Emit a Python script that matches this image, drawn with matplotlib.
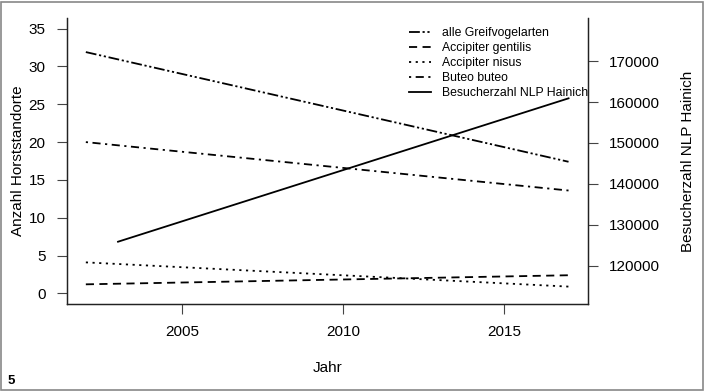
import matplotlib
matplotlib.use("Agg")
import matplotlib.pyplot as plt
from matplotlib.patches import Rectangle

plt.rcParams['font.family'] = ['Liberation Sans', 'DejaVu Sans']

# Data (trend lines)
years_birds = [2002, 2017]
alle = [31.9, 17.4]
gentilis = [1.2, 2.4]
nisus = [4.1, 0.9]
buteo = [20.0, 13.6]
years_visitors = [2003, 2017]
besucher = [125900, 160900]

labels = ["alle Greifvogelarten", "Accipiter gentilis", "Accipiter nisus",
          "Buteo buteo", "Besucherzahl NLP Hainich"]
xticks = [2005, 2010, 2015]
yticks_left = [0, 5, 10, 15, 20, 25, 30, 35]
yticks_right = [120000, 130000, 140000, 150000, 160000, 170000]

fig = plt.figure(figsize=(7.04, 3.92), dpi=100)
ax = fig.add_axes([0.0945, 0.2245, 0.7405, 0.7295])
ax2 = ax.twinx()

lw = 1.3
h1, = ax.plot(years_birds, alle, color='black', lw=lw, dashes=(6, 1.5, 1.2, 1.5, 1.2, 1.5))
h2, = ax.plot(years_birds, gentilis, color='black', lw=lw, dashes=(4.5, 3))
h3, = ax.plot(years_birds, nisus, color='black', lw=lw, dashes=(1.2, 2.5))
h4, = ax.plot(years_birds, buteo, color='black', lw=lw, dashes=(1.2, 2.5, 4.5, 2.5))
h5, = ax2.plot(years_visitors, besucher, color='black', lw=lw)

ax.set_xlim(2001.4, 2017.6)
ax.set_ylim(-1.4, 36.4)
ax2.set_ylim(110700, 180500)

for a in (ax, ax2):
    a.spines['top'].set_visible(False)
    for s in a.spines.values():
        s.set_linewidth(0.9)
        s.set_color('#222222')

ax.set_xticks(xticks)
ax.set_yticks(yticks_left)
ax2.set_yticks(yticks_right)
ax.tick_params(axis='both', direction='out', length=7, width=0.8, pad=8, labelsize=11, color='#444444')
ax2.tick_params(axis='y', direction='out', length=7, width=0.8, pad=8, labelsize=11, color='#444444')

ax.set_xlabel("Jahr", fontsize=11, labelpad=16)
ax.set_ylabel("Anzahl Horststandorte", fontsize=11, labelpad=3)
ax2.set_ylabel("Besucherzahl NLP Hainich", fontsize=11, labelpad=15)

fig.legend([h1, h2, h3, h4, h5], labels, loc='upper left',
           bbox_to_anchor=(0.572, 0.946), frameon=False, fontsize=8.8,
           handlelength=1.8, handletextpad=0.9, labelspacing=0.24, borderpad=0)

fig.patches.append(Rectangle((0.002, 0.004), 0.996, 0.992, transform=fig.transFigure,
                             fill=False, edgecolor='#888888', lw=1.2))
fig.text(0.011, 0.012, "5", fontsize=9.5, fontweight='bold', ha='left', va='bottom')

fig.savefig("out.png", dpi=100)
